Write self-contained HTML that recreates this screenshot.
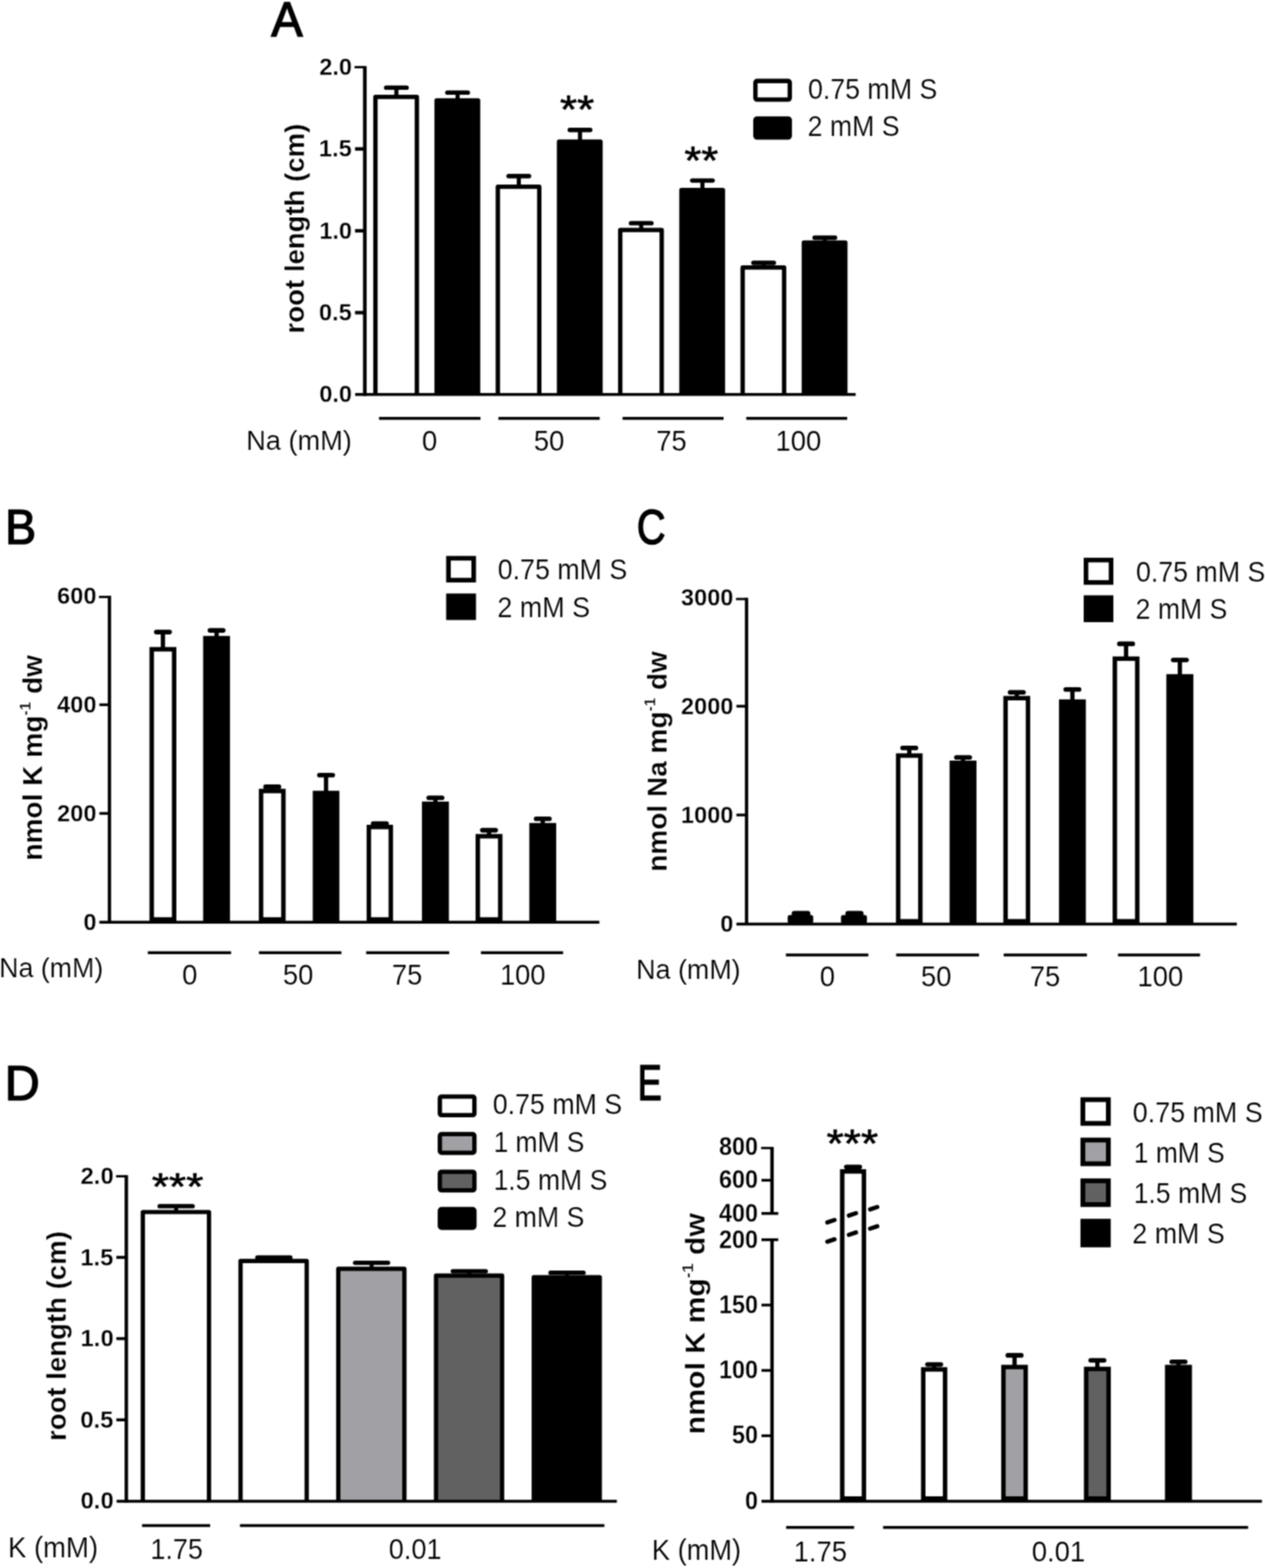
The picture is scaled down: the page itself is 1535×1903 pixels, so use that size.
<!DOCTYPE html>
<html lang="en">
<head>
<meta charset="utf-8">
<title>Figure</title>
<style>
html,body{margin:0;padding:0;background:#fff;}
body{width:1535px;height:1903px;overflow:hidden;}
svg{display:block;font-family:"Liberation Sans",sans-serif;stroke:#000;}
text{fill:#000;stroke:#fff;stroke-width:.2px;}
text[font-weight=bold]{stroke-width:.3px;}
</style>
</head>
<body>
<svg width="1535" height="1903" viewBox="0 0 1535 1903">
<defs><filter id="soft" x="0" y="0" width="1535" height="1903" filterUnits="userSpaceOnUse" color-interpolation-filters="sRGB"><feConvolveMatrix order="3" kernelMatrix="1 2 1 2 4 2 1 2 1" divisor="16" edgeMode="duplicate" preserveAlpha="true"/></filter></defs>
<g filter="url(#soft)">
<rect width="1535" height="1903" fill="#fff" stroke="none"/>
<g id="panelA">
<text transform="translate(329.15 43.86) scale(0.9710 1)" font-size="58.56" style="stroke:#000;stroke-width:1.7px">A</text>
<line x1="481" y1="106.4" x2="481" y2="117" stroke-width="5"/>
<line x1="468.6" y1="106.4" x2="493.4" y2="106.4" stroke-width="5.4" stroke-linecap="round"/>
<path d="M455.55 478.8V117.65H505.85V478.8" fill="#fff" stroke-width="5.3" stroke-linejoin="round"/>
<line x1="555.27" y1="112.4" x2="555.27" y2="121.2" stroke-width="5"/>
<line x1="542.87" y1="112.4" x2="567.67" y2="112.4" stroke-width="5.4" stroke-linecap="round"/>
<path d="M529.82 478.8V121.85H580.12V478.8" fill="#000" stroke-width="5.3" stroke-linejoin="round"/>
<line x1="629.54" y1="213.7" x2="629.54" y2="225.9" stroke-width="5"/>
<line x1="617.14" y1="213.7" x2="641.94" y2="213.7" stroke-width="5.4" stroke-linecap="round"/>
<path d="M604.09 478.8V226.55H654.39V478.8" fill="#fff" stroke-width="5.3" stroke-linejoin="round"/>
<line x1="703.81" y1="157.7" x2="703.81" y2="171.2" stroke-width="5"/>
<line x1="691.41" y1="157.7" x2="716.21" y2="157.7" stroke-width="5.4" stroke-linecap="round"/>
<path d="M678.36 478.8V171.85H728.66V478.8" fill="#000" stroke-width="5.3" stroke-linejoin="round"/>
<line x1="778.08" y1="270.9" x2="778.08" y2="278.4" stroke-width="5"/>
<line x1="765.68" y1="270.9" x2="790.48" y2="270.9" stroke-width="5.4" stroke-linecap="round"/>
<path d="M752.63 478.8V279.05H802.93V478.8" fill="#fff" stroke-width="5.3" stroke-linejoin="round"/>
<line x1="852.35" y1="219.1" x2="852.35" y2="230.1" stroke-width="5"/>
<line x1="839.95" y1="219.1" x2="864.75" y2="219.1" stroke-width="5.4" stroke-linecap="round"/>
<path d="M826.9 478.8V230.75H877.2V478.8" fill="#000" stroke-width="5.3" stroke-linejoin="round"/>
<line x1="926.62" y1="319" x2="926.62" y2="323.9" stroke-width="5"/>
<line x1="914.22" y1="319" x2="939.02" y2="319" stroke-width="5.4" stroke-linecap="round"/>
<path d="M901.17 478.8V324.55H951.47V478.8" fill="#fff" stroke-width="5.3" stroke-linejoin="round"/>
<line x1="1000.89" y1="288.5" x2="1000.89" y2="293.7" stroke-width="5"/>
<line x1="988.49" y1="288.5" x2="1013.29" y2="288.5" stroke-width="5.4" stroke-linecap="round"/>
<path d="M975.44 478.8V294.35H1025.74V478.8" fill="#000" stroke-width="5.3" stroke-linejoin="round"/>
<line x1="442.7" y1="80.2" x2="442.7" y2="480.4" stroke-width="4.4"/>
<line x1="431" y1="478.8" x2="1038.3" y2="478.8" stroke-width="3.6"/>
<text transform="translate(387.41 488.4) scale(0.9570 1)" font-size="29.86" font-weight="bold">0.0</text>
<line x1="430.8" y1="379.45" x2="442.7" y2="379.45" stroke-width="4.2"/>
<text transform="translate(387.12 389.05) scale(0.9570 1)" font-size="29.86" font-weight="bold">0.5</text>
<line x1="430.8" y1="280.1" x2="442.7" y2="280.1" stroke-width="4.2"/>
<text transform="translate(387.41 289.7) scale(0.9570 1)" font-size="29.86" font-weight="bold">1.0</text>
<line x1="430.8" y1="180.75" x2="442.7" y2="180.75" stroke-width="4.2"/>
<text transform="translate(387.12 190.35) scale(0.9570 1)" font-size="29.86" font-weight="bold">1.5</text>
<line x1="430.2" y1="81.5" x2="442.7" y2="81.5" stroke-width="2.8"/>
<text transform="translate(387.41 91) scale(0.9570 1)" font-size="29.86" font-weight="bold">2.0</text>
<text transform="translate(368.5 404.67) rotate(-90) scale(1.0276 1)" font-size="32.55" font-weight="bold">root length (cm)</text>
<line x1="459.9" y1="507.8" x2="583" y2="507.8" stroke-width="3.6"/>
<text transform="translate(512.04 547.45) scale(0.9550 1)" font-size="34.93">0</text>
<line x1="604.8" y1="507.8" x2="727.7" y2="507.8" stroke-width="3.6"/>
<text transform="translate(647.78 547.45) scale(0.9550 1)" font-size="34.93">50</text>
<line x1="755.4" y1="507.8" x2="878" y2="507.8" stroke-width="3.6"/>
<text transform="translate(796.2 547.45) scale(0.9550 1)" font-size="34.93">75</text>
<line x1="905.6" y1="507.8" x2="1028" y2="507.8" stroke-width="3.6"/>
<text transform="translate(940.92 547.45) scale(0.9550 1)" font-size="34.93">100</text>
<text transform="translate(298.76 545.9) scale(0.9776 1)" font-size="33.77">Na (mM)</text>
<rect x="916.65" y="98.25" width="41.7" height="22.6" rx="2" stroke-linejoin="round" fill="#fff" stroke-width="5.3"/>
<rect x="916.65" y="143.85" width="41.7" height="23" rx="2" stroke-linejoin="round" fill="#000" stroke-width="5.3"/>
<text transform="translate(980.46 119.56) scale(0.9482 1)" font-size="34.23">0.75 mM S</text>
<text transform="translate(979.98 165.36) scale(0.9481 1)" font-size="34.23">2 mM S</text>
<text transform="translate(679.55 148.6) scale(1.1282 1)" font-size="47.32" style="stroke:#000;stroke-width:.7px">**</text>
<text transform="translate(830.56 210.9) scale(1.1076 1)" font-size="47.61" style="stroke:#000;stroke-width:.7px">**</text>
</g>
<g id="panelB">
<text transform="translate(6.25 660.35) scale(0.9468 1)" font-size="59.42" style="stroke:#000;stroke-width:1.7px">B</text>
<line x1="197.7" y1="767.1" x2="197.7" y2="787.3" stroke-width="5.2"/>
<line x1="189.6" y1="767.1" x2="205.8" y2="767.1" stroke-width="5.6" stroke-linecap="round"/>
<rect x="184.1" y="788" width="27.2" height="327.9" fill="#fff" stroke-width="5.4"/>
<line x1="262.8" y1="765.1" x2="262.8" y2="773.8" stroke-width="5.2"/>
<line x1="254.7" y1="765.1" x2="270.9" y2="765.1" stroke-width="5.6" stroke-linecap="round"/>
<rect x="249.2" y="774.5" width="27.2" height="341.4" fill="#000" stroke-width="5.4"/>
<line x1="330.35" y1="954.9" x2="330.35" y2="959.3" stroke-width="5.2"/>
<line x1="322.25" y1="954.9" x2="338.45" y2="954.9" stroke-width="5.6" stroke-linecap="round"/>
<rect x="316.8" y="960" width="27.1" height="155.9" fill="#fff" stroke-width="5.4"/>
<line x1="395.65" y1="940.7" x2="395.65" y2="961.7" stroke-width="5.2"/>
<line x1="387.55" y1="940.7" x2="403.75" y2="940.7" stroke-width="5.6" stroke-linecap="round"/>
<rect x="382.2" y="962.4" width="26.9" height="153.5" fill="#000" stroke-width="5.4"/>
<line x1="460.9" y1="999.5" x2="460.9" y2="1003" stroke-width="5.2"/>
<line x1="452.8" y1="999.5" x2="469" y2="999.5" stroke-width="5.6" stroke-linecap="round"/>
<rect x="447.6" y="1003.7" width="26.6" height="112.2" fill="#fff" stroke-width="5.4"/>
<line x1="528.35" y1="968.2" x2="528.35" y2="974.8" stroke-width="5.2"/>
<line x1="520.25" y1="968.2" x2="536.45" y2="968.2" stroke-width="5.6" stroke-linecap="round"/>
<rect x="514.7" y="975.5" width="27.3" height="140.4" fill="#000" stroke-width="5.4"/>
<line x1="593.4" y1="1007.6" x2="593.4" y2="1014.2" stroke-width="5.2"/>
<line x1="585.3" y1="1007.6" x2="601.5" y2="1007.6" stroke-width="5.6" stroke-linecap="round"/>
<rect x="579.8" y="1014.9" width="27.2" height="101" fill="#fff" stroke-width="5.4"/>
<line x1="658.6" y1="993.7" x2="658.6" y2="1000.8" stroke-width="5.2"/>
<line x1="650.5" y1="993.7" x2="666.7" y2="993.7" stroke-width="5.6" stroke-linecap="round"/>
<rect x="645" y="1001.5" width="27.2" height="114.4" fill="#000" stroke-width="5.4"/>
<line x1="132.8" y1="723.1" x2="132.8" y2="1120.6" stroke-width="4"/>
<line x1="120.6" y1="1119.3" x2="727.3" y2="1119.3" stroke-width="3.5"/>
<text transform="translate(101.14 1128.7) scale(0.9570 1)" font-size="29.86" font-weight="bold">0</text>
<line x1="120.6" y1="987.2" x2="132.8" y2="987.2" stroke-width="3.3"/>
<text transform="translate(69.36 996.9) scale(0.9570 1)" font-size="29.86" font-weight="bold">200</text>
<line x1="120.6" y1="855.3" x2="132.8" y2="855.3" stroke-width="3.3"/>
<text transform="translate(69.36 865) scale(0.9570 1)" font-size="29.86" font-weight="bold">400</text>
<line x1="120.1" y1="724.5" x2="132.8" y2="724.5" stroke-width="2.8"/>
<text transform="translate(69.36 733.2) scale(0.9570 1)" font-size="29.86" font-weight="bold">600</text>
<line x1="179.4" y1="1156.3" x2="280.4" y2="1156.3" stroke-width="3.5"/>
<line x1="314.2" y1="1156.3" x2="414.3" y2="1156.3" stroke-width="3.5"/>
<line x1="444.3" y1="1156.3" x2="545.1" y2="1156.3" stroke-width="3.5"/>
<line x1="583.6" y1="1156.3" x2="683.3" y2="1156.3" stroke-width="3.5"/>
<text transform="translate(221.08 1194.65) scale(0.9550 1)" font-size="34.79">0</text>
<text transform="translate(343.16 1194.65) scale(0.9550 1)" font-size="34.79">50</text>
<text transform="translate(475.58 1194.65) scale(0.9550 1)" font-size="34.79">75</text>
<text transform="translate(606.64 1194.65) scale(0.9550 1)" font-size="34.79">100</text>
<text transform="translate(-1 1186.2) scale(0.9660 1)" font-size="33.62">Na (mM)</text>
<rect x="544.2" y="677.5" width="30.6" height="26.6" fill="#fff" stroke-width="5.6"/>
<rect x="544.2" y="723.1" width="30.6" height="26.6" fill="#000" stroke-width="5.6"/>
<text transform="translate(603.96 702.96) scale(0.9500 1)" font-size="34.23">0.75 mM S</text>
<text transform="translate(603.47 748.56) scale(0.9551 1)" font-size="34.23">2 mM S</text>
<text transform="translate(50.73 1044.52) rotate(-90) scale(1.0368 1)" font-size="32.87" font-weight="bold">nmol K mg<tspan font-size="18.08" dy="-13.48">-1</tspan><tspan dy="13.48"> dw</tspan></text>
</g>
<line x1="964" y1="1108.8" x2="980" y2="1108.8" stroke-width="6.8" stroke-linecap="round"/>
<line x1="1029.2" y1="1108.8" x2="1044.5" y2="1108.8" stroke-width="6.8" stroke-linecap="round"/>
<g id="panelC">
<text transform="translate(772.64 660.35) scale(0.8031 1)" font-size="60" style="stroke:#000;stroke-width:1.7px">C</text>
<rect x="958.5" y="1113.3" width="25.6" height="4.8" fill="#000" stroke-width="5.4" stroke-linejoin="round"/>
<rect x="1023.2" y="1113.3" width="26.1" height="4.8" fill="#000" stroke-width="5.4" stroke-linejoin="round"/>
<line x1="1103.35" y1="907.8" x2="1103.35" y2="916.3" stroke-width="5.2"/>
<line x1="1095.25" y1="907.8" x2="1111.45" y2="907.8" stroke-width="5.6" stroke-linecap="round"/>
<rect x="1089.9" y="917" width="26.9" height="201.1" fill="#fff" stroke-width="5.4"/>
<line x1="1168.6" y1="919.2" x2="1168.6" y2="925.1" stroke-width="5.2"/>
<line x1="1160.5" y1="919.2" x2="1176.7" y2="919.2" stroke-width="5.6" stroke-linecap="round"/>
<rect x="1155" y="925.8" width="27.2" height="192.3" fill="#000" stroke-width="5.4"/>
<line x1="1233.8" y1="840.3" x2="1233.8" y2="846.6" stroke-width="5.2"/>
<line x1="1225.7" y1="840.3" x2="1241.9" y2="840.3" stroke-width="5.6" stroke-linecap="round"/>
<rect x="1220.2" y="847.3" width="27.2" height="270.8" fill="#fff" stroke-width="5.4"/>
<line x1="1301.3" y1="836.7" x2="1301.3" y2="850.8" stroke-width="5.2"/>
<line x1="1293.2" y1="836.7" x2="1309.4" y2="836.7" stroke-width="5.6" stroke-linecap="round"/>
<rect x="1287.7" y="851.5" width="27.2" height="266.6" fill="#000" stroke-width="5.4"/>
<line x1="1366.4" y1="781.4" x2="1366.4" y2="798.7" stroke-width="5.2"/>
<line x1="1358.3" y1="781.4" x2="1374.5" y2="781.4" stroke-width="5.6" stroke-linecap="round"/>
<rect x="1352.8" y="799.4" width="27.2" height="318.7" fill="#fff" stroke-width="5.4"/>
<line x1="1431.7" y1="801" x2="1431.7" y2="820.2" stroke-width="5.2"/>
<line x1="1423.6" y1="801" x2="1439.8" y2="801" stroke-width="5.6" stroke-linecap="round"/>
<rect x="1418" y="820.9" width="27.4" height="297.2" fill="#000" stroke-width="5.4"/>
<line x1="905.9" y1="725.6" x2="905.9" y2="1122.8" stroke-width="4"/>
<line x1="893.6" y1="1121.5" x2="1500.8" y2="1121.5" stroke-width="3.5"/>
<text transform="translate(874.04 1130.9) scale(0.9570 1)" font-size="29.86" font-weight="bold">0</text>
<line x1="893.6" y1="989.1" x2="905.9" y2="989.1" stroke-width="3.3"/>
<text transform="translate(826.36 998.8) scale(0.9570 1)" font-size="29.86" font-weight="bold">1000</text>
<line x1="893.6" y1="857.1" x2="905.9" y2="857.1" stroke-width="3.3"/>
<text transform="translate(826.36 866.8) scale(0.9570 1)" font-size="29.86" font-weight="bold">2000</text>
<line x1="893.1" y1="727" x2="905.9" y2="727" stroke-width="2.8"/>
<text transform="translate(826.36 734.7) scale(0.9570 1)" font-size="29.86" font-weight="bold">3000</text>
<line x1="953.6" y1="1158.9" x2="1053.7" y2="1158.9" stroke-width="3.5"/>
<line x1="1087.4" y1="1158.9" x2="1188" y2="1158.9" stroke-width="3.5"/>
<line x1="1217.9" y1="1158.9" x2="1318.9" y2="1158.9" stroke-width="3.5"/>
<line x1="1356.6" y1="1158.9" x2="1456.2" y2="1158.9" stroke-width="3.5"/>
<text transform="translate(994.84 1196.85) scale(0.9550 1)" font-size="34.93">0</text>
<text transform="translate(1117.38 1196.85) scale(0.9550 1)" font-size="34.93">50</text>
<text transform="translate(1249.4 1196.85) scale(0.9550 1)" font-size="34.93">75</text>
<text transform="translate(1380.22 1196.85) scale(0.9550 1)" font-size="34.93">100</text>
<text transform="translate(771.99 1188.2) scale(0.9691 1)" font-size="33.62">Na (mM)</text>
<rect x="1317.8" y="679.7" width="30.4" height="27.2" fill="#fff" stroke-width="5.6"/>
<rect x="1317.8" y="725.3" width="30.4" height="27" fill="#000" stroke-width="5.6"/>
<text transform="translate(1378.46 706.06) scale(0.9482 1)" font-size="34.23">0.75 mM S</text>
<text transform="translate(1377.98 751.36) scale(0.9446 1)" font-size="34.23">2 mM S</text>
<text transform="translate(808.56 1057.91) rotate(-90) scale(1.0239 1)" font-size="33.19" font-weight="bold">nmol Na mg<tspan font-size="18.26" dy="-13.61">-1</tspan><tspan dy="13.61"> dw</tspan></text>
</g>
<g id="panelD">
<text transform="translate(5.74 1335.35) scale(0.9828 1)" font-size="59.86" style="stroke:#000;stroke-width:1.7px">D</text>
<line x1="213.75" y1="1463.9" x2="213.75" y2="1470.4" stroke-width="4.8"/>
<line x1="193.75" y1="1463.9" x2="233.75" y2="1463.9" stroke-width="5.3" stroke-linecap="round"/>
<path d="M173.3 1821.8V1471H253.6V1821.8" fill="#fff" stroke-width="5.2" stroke-linejoin="round"/>
<line x1="332.32" y1="1526.2" x2="332.32" y2="1529.7" stroke-width="4.8"/>
<line x1="312.32" y1="1526.2" x2="352.32" y2="1526.2" stroke-width="5.3" stroke-linecap="round"/>
<path d="M291.9 1821.8V1530.3H372.15V1821.8" fill="#fff" stroke-width="5.2" stroke-linejoin="round"/>
<line x1="450.9" y1="1532.6" x2="450.9" y2="1539.3" stroke-width="4.8"/>
<line x1="430.9" y1="1532.6" x2="470.9" y2="1532.6" stroke-width="5.3" stroke-linecap="round"/>
<path d="M410.5 1821.8V1539.9H490.7V1821.8" fill="#a1a1a5" stroke-width="5.2" stroke-linejoin="round"/>
<line x1="569.47" y1="1542.8" x2="569.47" y2="1547.6" stroke-width="4.8"/>
<line x1="549.47" y1="1542.8" x2="589.47" y2="1542.8" stroke-width="5.3" stroke-linecap="round"/>
<path d="M529.1 1821.8V1548.2H609.25V1821.8" fill="#616161" stroke-width="5.2" stroke-linejoin="round"/>
<line x1="688.05" y1="1544.7" x2="688.05" y2="1549.5" stroke-width="4.8"/>
<line x1="668.05" y1="1544.7" x2="708.05" y2="1544.7" stroke-width="5.3" stroke-linecap="round"/>
<path d="M647.7 1821.8V1550.1H727.8V1821.8" fill="#000" stroke-width="5.2" stroke-linejoin="round"/>
<line x1="153.3" y1="1426.2" x2="153.3" y2="1823.4" stroke-width="4.2"/>
<line x1="141.5" y1="1822" x2="748.5" y2="1822" stroke-width="3.6"/>
<text transform="translate(97.84 1831.4) scale(0.9570 1)" font-size="30.14" font-weight="bold">0.0</text>
<line x1="141.2" y1="1723.2" x2="153.3" y2="1723.2" stroke-width="3.6"/>
<text transform="translate(97.56 1732.8) scale(0.9570 1)" font-size="30.14" font-weight="bold">0.5</text>
<line x1="141.2" y1="1624.6" x2="153.3" y2="1624.6" stroke-width="3.6"/>
<text transform="translate(97.84 1634.2) scale(0.9570 1)" font-size="30.14" font-weight="bold">1.0</text>
<line x1="141.2" y1="1526" x2="153.3" y2="1526" stroke-width="3.6"/>
<text transform="translate(97.56 1535.6) scale(0.9570 1)" font-size="30.14" font-weight="bold">1.5</text>
<line x1="140.8" y1="1427.6" x2="153.3" y2="1427.6" stroke-width="2.8"/>
<text transform="translate(97.84 1437) scale(0.9570 1)" font-size="30.14" font-weight="bold">2.0</text>
<text transform="translate(79.66 1748.78) rotate(-90) scale(1.0082 1)" font-size="33.19" font-weight="bold">root length (cm)</text>
<line x1="172.4" y1="1851.5" x2="255" y2="1851.5" stroke-width="3.5"/>
<line x1="291.2" y1="1851.5" x2="733.4" y2="1851.5" stroke-width="3.5"/>
<text transform="translate(182.51 1891.96) scale(0.9550 1)" font-size="34.37">1.75</text>
<text transform="translate(471.84 1891.96) scale(0.9550 1)" font-size="34.37">0.01</text>
<text transform="translate(9.63 1889.9) scale(0.9721 1)" font-size="34.35">K (mM)</text>
<rect x="533.75" y="1330.85" width="41.9" height="22.6" rx="2" stroke-linejoin="round" fill="#fff" stroke-width="5.3"/>
<text transform="translate(598.06 1352.45) scale(0.9398 1)" font-size="34.51">0.75 mM S</text>
<rect x="533.75" y="1376.45" width="41.9" height="22.6" rx="2" stroke-linejoin="round" fill="#a1a1a5" stroke-width="5.3"/>
<text transform="translate(598.9 1398) scale(0.9283 1)" font-size="34.51">1 mM S</text>
<rect x="533.75" y="1422.05" width="41.9" height="22.6" rx="2" stroke-linejoin="round" fill="#616161" stroke-width="5.3"/>
<text transform="translate(598.88 1443.55) scale(0.9352 1)" font-size="34.51">1.5 mM S</text>
<rect x="533.75" y="1467.45" width="41.9" height="22.6" rx="2" stroke-linejoin="round" fill="#000" stroke-width="5.3"/>
<text transform="translate(597.58 1489.1) scale(0.9395 1)" font-size="34.51">2 mM S</text>
<text transform="translate(184.25 1456.42) scale(1.1529 1)" font-size="46.48" style="stroke:#000;stroke-width:.7px">***</text>
</g>
<g id="panelE">
<text transform="translate(773.64 1335.35) scale(0.7222 1)" font-size="60.72" style="stroke:#000;stroke-width:1.7px">E</text>
<line x1="1035.15" y1="1416.3" x2="1035.15" y2="1421" stroke-width="5.2"/>
<line x1="1027" y1="1416.3" x2="1043.3" y2="1416.3" stroke-width="5.6" stroke-linecap="round"/>
<rect x="1022" y="1421.7" width="26.3" height="397" fill="#fff" stroke-width="5.4"/>
<line x1="1133.55" y1="1656" x2="1133.55" y2="1661.3" stroke-width="5.2"/>
<line x1="1125.4" y1="1656" x2="1141.7" y2="1656" stroke-width="5.6" stroke-linecap="round"/>
<rect x="1120.3" y="1662" width="26.5" height="156.7" fill="#fff" stroke-width="5.4"/>
<line x1="1231.1" y1="1644.9" x2="1231.1" y2="1658.4" stroke-width="5.2"/>
<line x1="1222.95" y1="1644.9" x2="1239.25" y2="1644.9" stroke-width="5.6" stroke-linecap="round"/>
<rect x="1217.6" y="1659.1" width="27" height="159.6" fill="#a1a1a5" stroke-width="5.4"/>
<line x1="1331.6" y1="1651" x2="1331.6" y2="1660.7" stroke-width="5.2"/>
<line x1="1323.45" y1="1651" x2="1339.75" y2="1651" stroke-width="5.6" stroke-linecap="round"/>
<rect x="1318" y="1661.4" width="27.2" height="157.3" fill="#616161" stroke-width="5.4"/>
<line x1="1430" y1="1652.8" x2="1430" y2="1658.4" stroke-width="5.2"/>
<line x1="1421.85" y1="1652.8" x2="1438.15" y2="1652.8" stroke-width="5.6" stroke-linecap="round"/>
<rect x="1416.3" y="1659.1" width="27.4" height="159.6" fill="#000" stroke-width="5.4"/>
<line x1="1004" y1="1483.55" x2="1012.6" y2="1480.65" stroke-width="5.2" stroke-linecap="round"/>
<line x1="1030.1" y1="1475.25" x2="1038.7" y2="1472.35" stroke-width="5.2" stroke-linecap="round"/>
<line x1="1055.9" y1="1467.75" x2="1064.5" y2="1464.85" stroke-width="5.2" stroke-linecap="round"/>
<line x1="1004" y1="1506.95" x2="1012.6" y2="1504.05" stroke-width="5.2" stroke-linecap="round"/>
<line x1="1030.1" y1="1498.65" x2="1038.7" y2="1495.75" stroke-width="5.2" stroke-linecap="round"/>
<line x1="1055.9" y1="1491.15" x2="1064.5" y2="1488.25" stroke-width="5.2" stroke-linecap="round"/>
<line x1="936.8" y1="1504.6" x2="936.8" y2="1823.4" stroke-width="4.2"/>
<line x1="936.8" y1="1392" x2="936.8" y2="1472.7" stroke-width="4.2"/>
<line x1="924" y1="1822" x2="1531.3" y2="1822" stroke-width="3.6"/>
<text transform="translate(903.89 1831.79) scale(0.9050 1)" font-size="31.27" font-weight="bold">0</text>
<line x1="924" y1="1742.5" x2="936.8" y2="1742.5" stroke-width="3.3"/>
<text transform="translate(888.15 1752.49) scale(0.9050 1)" font-size="31.27" font-weight="bold">50</text>
<line x1="924" y1="1663.2" x2="936.8" y2="1663.2" stroke-width="3.3"/>
<text transform="translate(872.41 1673.19) scale(0.9050 1)" font-size="31.27" font-weight="bold">100</text>
<line x1="924" y1="1583.9" x2="936.8" y2="1583.9" stroke-width="3.3"/>
<text transform="translate(872.41 1593.89) scale(0.9050 1)" font-size="31.27" font-weight="bold">150</text>
<line x1="924" y1="1504.6" x2="944.4" y2="1504.6" stroke-width="3.4"/>
<text transform="translate(872.41 1514.59) scale(0.9050 1)" font-size="31.27" font-weight="bold">200</text>
<line x1="924" y1="1472.7" x2="944.4" y2="1472.7" stroke-width="3.4"/>
<text transform="translate(872.41 1482.59) scale(0.9050 1)" font-size="31.27" font-weight="bold">400</text>
<line x1="924" y1="1432.4" x2="936.8" y2="1432.4" stroke-width="3.3"/>
<text transform="translate(872.41 1442.29) scale(0.9050 1)" font-size="31.27" font-weight="bold">600</text>
<line x1="923.6" y1="1393.3" x2="936.8" y2="1393.3" stroke-width="2.8"/>
<text transform="translate(872.41 1402.29) scale(0.9050 1)" font-size="31.27" font-weight="bold">800</text>
<text transform="translate(854.93 1740.68) rotate(-90) scale(1.0836 1)" font-size="33.83" font-weight="bold">nmol K mg<tspan font-size="18.61" dy="-13.87">-1</tspan><tspan dy="13.87"> dw</tspan></text>
<line x1="953.9" y1="1853.8" x2="1036.4" y2="1853.8" stroke-width="3.5"/>
<line x1="1071.6" y1="1853.8" x2="1514.5" y2="1853.8" stroke-width="3.5"/>
<text transform="translate(962.97 1895.25) scale(0.9550 1)" font-size="34.93">1.75</text>
<text transform="translate(1251.92 1895.25) scale(0.9550 1)" font-size="34.93">0.01</text>
<text transform="translate(790.95 1893.2) scale(0.9390 1)" font-size="35.22">K (mM)</text>
<rect x="1314" y="1334.6" width="30.9" height="28.8" fill="#fff" stroke-width="5.8"/>
<text transform="translate(1374.56 1361.75) scale(0.9190 1)" font-size="35.49">0.75 mM S</text>
<rect x="1314" y="1383.6" width="30.9" height="28.8" fill="#a1a1a5" stroke-width="5.8"/>
<text transform="translate(1375.7 1410.75) scale(0.9034 1)" font-size="35.49">1 mM S</text>
<rect x="1314" y="1433.1" width="30.9" height="28.8" fill="#616161" stroke-width="5.8"/>
<text transform="translate(1375.69 1459.75) scale(0.9072 1)" font-size="35.49">1.5 mM S</text>
<rect x="1314" y="1482.1" width="30.9" height="28.8" fill="#000" stroke-width="5.8"/>
<text transform="translate(1374.07 1508.75) scale(0.9168 1)" font-size="35.49">2 mM S</text>
<text transform="translate(1003.05 1404.08) scale(1.1042 1)" font-size="48.45" style="stroke:#000;stroke-width:.7px">***</text>
</g>
</g>
</svg>
</body>
</html>
